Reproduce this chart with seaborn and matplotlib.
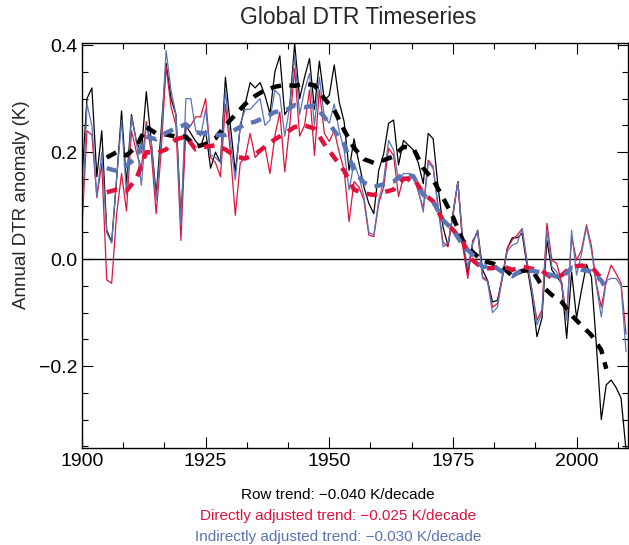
import numpy as np
import pandas as pd
import matplotlib
matplotlib.use("Agg")
import matplotlib.pyplot as plt
from matplotlib.ticker import MultipleLocator
import seaborn as sns

years = list(range(1900, 2011))

raw_row = [0.15, 0.30, 0.32, 0.154, 0.24, 0.054, 0.032, 0.15, 0.277, 0.14,
           0.27, 0.22, 0.20, 0.313, 0.22, 0.12, 0.24, 0.366, 0.30, 0.27,
           0.073, 0.25, 0.235, 0.22, 0.21, 0.24, 0.17, 0.20, 0.18, 0.34,
           0.25, 0.163, 0.247, 0.29, 0.33, 0.32, 0.33, 0.306, 0.272, 0.35,
           0.38, 0.27, 0.285, 0.403, 0.30, 0.34, 0.375, 0.28, 0.37, 0.297,
           0.306, 0.363, 0.294, 0.257, 0.166, 0.225, 0.18, 0.135, 0.104, 0.085,
           0.166, 0.197, 0.254, 0.26, 0.176, 0.222, 0.213, 0.204, 0.18, 0.141,
           0.235, 0.225, 0.135, 0.06, 0.025, 0.085, 0.145, 0.03, -0.027, 0.03,
           0.054, -0.02, -0.04, -0.08, -0.077, -0.035, 0.02, 0.04, 0.04, 0.048,
           -0.014, -0.07, -0.145, -0.11, 0.035, -0.02, -0.033, -0.045, -0.148, -0.024,
           -0.11, -0.058, -0.01, -0.033, -0.16, -0.30, -0.235, -0.226, -0.24, -0.26,
           -0.357]

raw_direct = [0.06, 0.24, 0.232, 0.115, 0.179, -0.039, -0.045, 0.085, 0.16, 0.09,
              0.24, 0.20, 0.17, 0.257, 0.20, 0.085, 0.20, 0.36, 0.285, 0.25,
              0.035, 0.247, 0.25, 0.266, 0.266, 0.30, 0.19, 0.18, 0.154, 0.29,
              0.20, 0.082, 0.18, 0.19, 0.235, 0.19, 0.20, 0.21, 0.16, 0.23,
              0.275, 0.163, 0.25, 0.356, 0.23, 0.25, 0.316, 0.194, 0.316, 0.235,
              0.22, 0.24, 0.20, 0.166, 0.07, 0.145, 0.135, 0.11, 0.045, 0.042,
              0.104, 0.135, 0.207, 0.194, 0.117, 0.154, 0.145, 0.157, 0.126, 0.095,
              0.185, 0.173, 0.098, 0.032, 0.023, 0.082, 0.145, 0.023, -0.036, 0.035,
              0.05, -0.033, -0.04, -0.09, -0.083, -0.03, 0.02, 0.036, 0.045, 0.057,
              -0.005, -0.06, -0.114, -0.095, 0.067, -0.002, -0.008, -0.045, -0.108, 0.042,
              -0.002, 0.017, 0.064, 0.025, -0.045, -0.09, -0.04, -0.011, -0.027, -0.045,
              -0.14]

raw_indirect = [0.07, 0.29, 0.25, 0.117, 0.2, 0.05, 0.03, 0.15, 0.26, 0.12,
                0.266, 0.22, 0.138, 0.25, 0.22, 0.11, 0.22, 0.39, 0.316, 0.27,
                0.064, 0.30, 0.30, 0.24, 0.23, 0.28, 0.195, 0.19, 0.18, 0.316,
                0.22, 0.148, 0.253, 0.28, 0.28, 0.29, 0.30, 0.25, 0.26, 0.316,
                0.306, 0.23, 0.285, 0.38, 0.27, 0.316, 0.347, 0.25, 0.34, 0.266,
                0.254, 0.29, 0.24, 0.204, 0.129, 0.18, 0.154, 0.117, 0.05, 0.045,
                0.11, 0.148, 0.222, 0.204, 0.148, 0.16, 0.16, 0.154, 0.129, 0.088,
                0.18, 0.17, 0.098, 0.023, 0.03, 0.08, 0.145, 0.035, -0.015, 0.03,
                0.054, -0.036, -0.042, -0.10, -0.09, -0.035, 0.015, 0.026, 0.03, 0.057,
                -0.008, -0.058, -0.123, -0.10, 0.054, -0.014, -0.024, -0.05, -0.114, 0.054,
                -0.03, 0.01, 0.06, 0.017, -0.05, -0.108, -0.04, -0.036, -0.036, -0.05,
                -0.173]

smooth_years = list(range(1905, 2006, 2)) + [2006]

smooth_row = [0.19, 0.20, 0.194, 0.21, 0.247, 0.235, 0.233, 0.229, 0.229, 0.21,
              0.215, 0.226, 0.25, 0.27, 0.29, 0.305, 0.316, 0.322, 0.326, 0.324,
              0.328, 0.325, 0.30, 0.279, 0.241, 0.208, 0.187, 0.18, 0.185, 0.192,
              0.21, 0.207, 0.17, 0.148, 0.115, 0.079, 0.035, 0.013, -0.003, -0.008,
              -0.015, -0.031, -0.022, -0.02, -0.05, -0.067, -0.08, -0.105, -0.124, -0.142,
              -0.17, -0.205]

smooth_direct = [0.125, 0.13, 0.128, 0.15, 0.2, 0.198, 0.205, 0.224, 0.229, 0.205,
                 0.21, 0.213, 0.205, 0.192, 0.188, 0.196, 0.21, 0.224, 0.235, 0.247,
                 0.25, 0.244, 0.215, 0.19, 0.165, 0.13, 0.123, 0.12, 0.125, 0.13,
                 0.15, 0.152, 0.123, 0.108, 0.072, 0.055, 0.032, -0.002, -0.017, -0.017,
                 -0.013, -0.02, -0.014, -0.018, -0.022, -0.035, -0.03, -0.014, -0.012, -0.014,
                 -0.036, -0.045]

smooth_indirect = [0.17, 0.165, 0.175, 0.19, 0.229, 0.224, 0.236, 0.245, 0.252, 0.237,
                   0.235, 0.232, 0.232, 0.242, 0.252, 0.257, 0.265, 0.275, 0.277, 0.288,
                   0.284, 0.287, 0.266, 0.24, 0.215, 0.165, 0.143, 0.135, 0.14, 0.145,
                   0.16, 0.155, 0.12, 0.108, 0.073, 0.055, 0.026, 0.008, -0.015, -0.011,
                   -0.024, -0.032, -0.02, -0.022, -0.025, -0.03, -0.035, -0.016, -0.02, -0.023,
                   -0.04, -0.055]

x_ticks = [1900, 1925, 1950, 1975, 2000]
y_ticks = [-0.2, 0.0, 0.2, 0.4]

BLACK = "#000000"
RED = "#E0123C"
BLUE = "#5A74B6"

sns.set_style("ticks")
plt.rcParams["font.family"] = ["Liberation Sans", "DejaVu Sans"]

fig = plt.figure(figsize=(6.29, 5.45), dpi=100)
ax = fig.add_axes([82 / 629, 1 - 448 / 545, 546 / 629, 405 / 545])

raw = pd.DataFrame({"year": years, "row": raw_row, "direct": raw_direct,
                    "indirect": raw_indirect})
sm = pd.DataFrame({"year": smooth_years, "row": smooth_row,
                   "direct": smooth_direct, "indirect": smooth_indirect})

ax.axhline(0.0, color="black", lw=1.0, zorder=1)

for col, c in [("row", BLACK), ("direct", RED), ("indirect", BLUE)]:
    sns.lineplot(data=raw, x="year", y=col, ax=ax, color=c, lw=0.9,
                 estimator=None, zorder=2)

dash = (0, (2.4, 1.9))
for col, c in [("row", BLACK), ("direct", RED), ("indirect", BLUE)]:
    sns.lineplot(data=sm, x="year", y=col, ax=ax, color=c, lw=3.2,
                 linestyle=dash, estimator=None, zorder=3)

ax.set_xlim(1900, 2010.4)
ax.set_ylim(-0.353, 0.404)
ax.set_xticks(x_ticks)
ax.set_xticklabels([str(v) for v in x_ticks])
ax.set_yticks(y_ticks)
ax.set_yticklabels(["\u22120.2", "0.0", "0.2", "0.4"])
ax.xaxis.set_minor_locator(MultipleLocator(25 / 3))
ax.yaxis.set_minor_locator(MultipleLocator(0.05))
ax.tick_params(which="both", direction="in", top=True, right=True,
               width=0.8, colors="black", labelsize=14)
ax.tick_params(which="major", length=8)
ax.tick_params(which="minor", length=4)
ax.set_xlabel("")
ax.set_ylabel("")
for s in ax.spines.values():
    s.set_linewidth(1.0)
    s.set_color("black")

fig.text(358 / 629, 1 - 18 / 545, "Global DTR Timeseries", ha="center",
         va="center", fontsize=16.5)
fig.text(22 / 629, 1 - 205 / 545, "Annual DTR anomaly (K)", ha="center",
         va="center", rotation=90, fontsize=13.5)

fig.text(338 / 629, 1 - 495 / 545, "Row trend: \u22120.040 K/decade",
         ha="center", va="center", fontsize=11, color=BLACK)
fig.text(338 / 629, 1 - 516 / 545,
         "Directly adjusted trend: \u22120.025 K/decade",
         ha="center", va="center", fontsize=11, color=RED)
fig.text(338 / 629, 1 - 537 / 545,
         "Indirectly adjusted trend: \u22120.030 K/decade",
         ha="center", va="center", fontsize=11, color=BLUE)

fig.savefig("out.png", dpi=100)
